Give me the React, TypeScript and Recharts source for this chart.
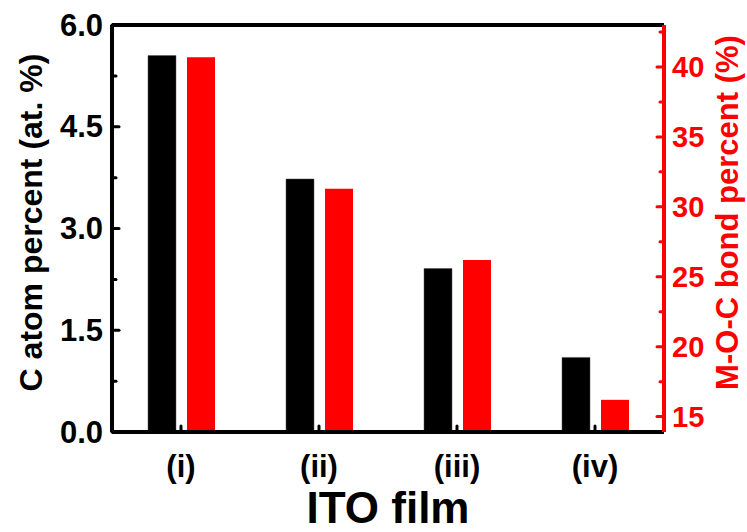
import { BarChart, Bar, XAxis, YAxis, ReferenceLine } from "recharts";

const categories = ["(i)", "(ii)", "(iii)", "(iv)"];
const cAtomPercent = [5.55, 3.73, 2.41, 1.1];
const mocBondPercent = [40.7, 31.3, 26.2, 16.2];

const leftTicks = [0, 0.75, 1.5, 2.25, 3, 3.75, 4.5, 5.25, 6];
const leftMajor = [0, 1.5, 3, 4.5, 6];
const rightTicks = [15, 17.5, 20, 22.5, 25, 27.5, 30, 32.5, 35, 37.5, 40, 42.5];
const rightMajor = [15, 20, 25, 30, 35, 40];

const data = categories.map((film, i) => ({
  film,
  cAtom: cAtomPercent[i],
  moc: mocBondPercent[i],
}));

const FONT = '"Liberation Sans", Arial, sans-serif';
const RED = "#ff0000";

function LeftTick({ x, y, payload }: any) {
  const major = leftMajor.includes(payload.value);
  return (
    <g>
      <line x1={x} x2={x + (major ? 7 : 4)} y1={y} y2={y} stroke="#000" strokeWidth={3} strokeLinecap="round" />
      {major && (
        <text x={x - 9} y={y} textAnchor="end" dominantBaseline="central" fontFamily={FONT} fontWeight="bold" fontSize={31} fill="#000">
          {payload.value.toFixed(1)}
        </text>
      )}
    </g>
  );
}

function RightTick({ x, y, payload }: any) {
  const major = rightMajor.includes(payload.value);
  return (
    <g>
      <line x1={x} x2={x - (major ? 7 : 4)} y1={y} y2={y} stroke={RED} strokeWidth={3} strokeLinecap="round" />
      {major && (
        <text x={x + 8} y={y} textAnchor="start" dominantBaseline="central" fontFamily={FONT} fontWeight="bold" fontSize={29} fill={RED}>
          {payload.value}
        </text>
      )}
    </g>
  );
}

function BottomTick({ x, y, payload }: any) {
  return (
    <g>
      <line x1={x} x2={x} y1={y} y2={y - 6} stroke="#000" strokeWidth={3} strokeLinecap="round" />
      <text x={x} y={y + 34} textAnchor="middle" dominantBaseline="central" fontFamily={FONT} fontWeight="bold" fontSize={31} fill="#000">
        {payload.value}
      </text>
    </g>
  );
}

function LeftTitle({ viewBox }: any) {
  const cx = viewBox.x + 31;
  const cy = viewBox.y + viewBox.height / 2 - 6;
  return (
    <text x={cx} y={cy} transform={`rotate(-90, ${cx}, ${cy})`} textAnchor="middle" dominantBaseline="central" fontFamily={FONT} fontWeight="bold" fontSize={32} fill="#000">
      C atom percent (at. %)
    </text>
  );
}

function RightTitle({ viewBox }: any) {
  const cx = viewBox.x + 63;
  const cy = viewBox.y + viewBox.height / 2 - 16;
  return (
    <text x={cx} y={cy} transform={`rotate(-90, ${cx}, ${cy})`} textAnchor="middle" dominantBaseline="central" fontFamily={FONT} fontWeight="bold" fontSize={31} fill={RED}>
      M-O-C bond percent (%)
    </text>
  );
}

function BottomTitle({ viewBox }: any) {
  return (
    <text x={viewBox.x + viewBox.width / 2} y={viewBox.y + 75} textAnchor="middle" dominantBaseline="central" fontFamily={FONT} fontWeight="bold" fontSize={44} fill="#000">
      ITO film
    </text>
  );
}

export default function App() {
  return (
    <div style={{ position: "absolute", left: 0, top: 0, background: "#fff" }}>
      <BarChart width={747} height={532} data={data} margin={{ top: 25, right: 0, bottom: 0, left: 0 }} barSize={28} barGap={11}>
        <XAxis
          dataKey="film"
          height={100}
          axisLine={{ stroke: "#000", strokeWidth: 4 }}
          tickLine={false}
          tickSize={0}
          tickMargin={0}
          tick={<BottomTick />}
          label={<BottomTitle />}
        />
        <YAxis
          yAxisId="left"
          orientation="left"
          width={112}
          domain={[0, 6]}
          ticks={leftTicks}
          allowDataOverflow
          axisLine={{ stroke: "#000", strokeWidth: 4 }}
          tickLine={false}
          tickSize={0}
          tickMargin={0}
          tick={<LeftTick />}
          interval={0}
          label={<LeftTitle />}
        />
        <YAxis
          yAxisId="right"
          orientation="right"
          width={83}
          domain={[13.9, 43]}
          ticks={rightTicks}
          allowDataOverflow
          axisLine={{ stroke: RED, strokeWidth: 4 }}
          tickLine={false}
          tickSize={0}
          tickMargin={0}
          tick={<RightTick />}
          interval={0}
          label={<RightTitle />}
        />
        <ReferenceLine yAxisId="left" y={6} stroke="#000" strokeWidth={4} />
        <Bar yAxisId="left" dataKey="cAtom" fill="#000" stroke="#555" strokeWidth={0.5} isAnimationActive={false} />
        <Bar yAxisId="right" dataKey="moc" fill={RED} isAnimationActive={false} />
      </BarChart>
    </div>
  );
}
